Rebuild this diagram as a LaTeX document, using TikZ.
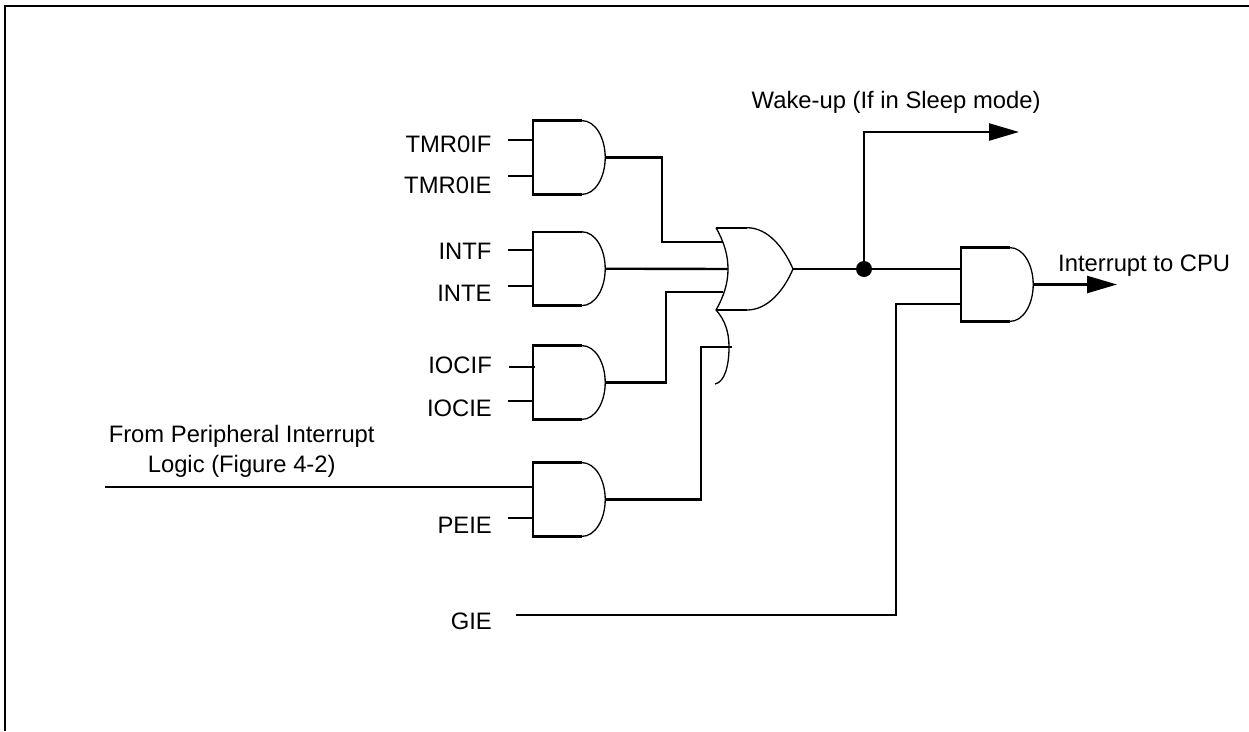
\documentclass[tikz,border=0pt]{standalone}
\usepackage{fontspec}
\setmainfont{Liberation Sans}
\usetikzlibrary{arrows.meta}
\tikzset{
  wire/.style={line width=2.4pt,line join=miter},
  thin curve/.style={line width=1.3pt},
  frameline/.style={line width=2.4pt},
  lbl/.style={inner sep=0pt,font=\fontsize{23.8pt}{29.3pt}\selectfont},
  andbody/.style={draw=none,rectangle,inner sep=0pt,minimum width=72pt,minimum height=73.4pt},
  out arrow/.style={-{Triangle[length=30pt,width=17pt]}},
  joint/.style={circle,fill=black,inner sep=0pt,minimum size=16pt},
}
% \andgate{name}: outline of an AND gate on the invisible body node
\newcommand{\andgate}[1]{%
  \draw[thin curve] ([xshift=-23.3pt]#1.north east) .. controls ([xshift=-10pt]#1.north east) and ([yshift=20pt]#1.east) .. (#1.east)
     .. controls ([yshift=-20pt]#1.east) and ([xshift=-10pt]#1.south east) .. ([xshift=-23.3pt]#1.south east);
  \draw[wire] ([xshift=-23.3pt]#1.north east) -- (#1.north west) -- (#1.south west) -- ([xshift=-23.3pt]#1.south east);
}
\begin{document}
\begin{tikzpicture}[x=1pt,y=-1pt]
\useasboundingbox (0,0) rectangle (1249,731);
\fill[white] (0,0) rectangle (1249,731);
% frame (left and top edges only)
\coordinate (fbl) at (5.2,731);
\coordinate (ftl) at (5.2,6);
\coordinate (ftr) at (1249,6);
\draw[frameline] (fbl) -- (ftl) -- (ftr);

% AND gates
\node[andbody] (g1) at (569,157.5) {};
\node[andbody] (g2) at (569,268.7) {};
\node[andbody] (g3) at (569,382.5) {};
\node[andbody] (g4) at (569,499.5) {};
\node[andbody] (g5) at (997,284.5) {};
\andgate{g1}\andgate{g2}\andgate{g3}\andgate{g4}\andgate{g5}

% OR gate
\coordinate (ortl) at (716,227.7);
\coordinate (orbl) at (716,310);
\coordinate (ortp) at (747,227.7);
\coordinate (orbp) at (747,310);
\coordinate (ortip) at (793,269);
\coordinate (orin) at (728,269);
\coordinate (orext) at (715,384);
\draw[wire] (ortl) -- (ortp);
\draw[wire] (orbl) -- (orbp);
\draw[thin curve] (ortp) .. controls (768,227.7) and (784,248) .. (ortip)
   .. controls (784,290) and (768,310) .. (orbp);
\draw[thin curve] (ortl) .. controls (724,242) and (728,255) .. (orin)
   .. controls (728,283) and (724,296) .. (orbl)
   .. controls (725,320) and (729,332) .. (729,347)
   .. controls (729,365) and (725,382) .. (orext);

% labels
\node[lbl,anchor=base east] (tmrf) at (491.7,152) {TMR0IF};
\node[lbl,anchor=base east] (tmre) at (491.7,193.5) {TMR0IE};
\node[lbl,anchor=base east] (intf) at (491.7,259.5) {INTF};
\node[lbl,anchor=base east] (inte) at (491.7,301.7) {INTE};
\node[lbl,anchor=base east] (iocf) at (492,373.5) {IOCIF};
\node[lbl,anchor=base east] (ioce) at (492,416) {IOCIE};
\node[lbl,anchor=base east] (peie) at (492,533) {PEIE};
\node[lbl,anchor=base east] (gie) at (492,629) {GIE};
\node[lbl,anchor=base west] (wake) at (751.5,108) {Wake-up (If in Sleep mode)};
\node[lbl,anchor=base west] (cpu) at (1058,271) {Interrupt to CPU};
\node[lbl,anchor=base] (from1) at (241.7,442.7) {From Peripheral Interrupt};
\node[lbl,anchor=base] (from2) at (241.7,472) {Logic (Figure 4-2)};

% input stubs: free ends
\coordinate (a1) at (508,140);
\coordinate (b1) at (508,176);
\coordinate (a2) at (508,250);
\coordinate (b2) at (508,285.7);
\coordinate (a3) at (509,367);
\coordinate (b3) at (508,401);
\coordinate (a4) at (105,487);
\coordinate (b4) at (508,517.7);
\draw[wire] (a1) -- (a1 -| g1.west);
\draw[wire] (b1) -- (b1 -| g1.west);
\draw[wire] (a2) -- (a2 -| g2.west);
\draw[wire] (b2) -- (b2 -| g2.west);
\draw[wire] (a3) -- ([xshift=2.5pt]a3 -| g3.west);
\draw[wire] (b3) -- (b3 -| g3.west);
\draw[wire] (a4) -- (a4 -| g4.west);
\draw[wire] (b4) -- (b4 -| g4.west);

% outputs to OR gate
\coordinate (o1) at (722.7,242);
\coordinate (o3) at (723,291.7);
\coordinate (o4) at (731.7,347);
\draw[wire] (g1.east) -| (662,242) -- (o1);
\draw[wire] (g2.east) -- (orin);
\draw[wire] (g3.east) -| (666,291.7) -- (o3);
\draw[wire] (g4.east) -| (700.7,347) -- (o4);

% OR output and branches
\node[joint] (dot) at (864,269) {};
\coordinate (wakeend) at (1019,132);
\coordinate (cpuend) at (1117,284.5);
\coordinate (g5a) at (g5.west |- dot);
\coordinate (g5b) at (961,303.7);
\coordinate (giestart) at (516,614.7);
\draw[wire] (ortip) -- (dot);
\draw[wire] (dot) -- (g5a);
\draw[wire,out arrow] (dot) |- (wakeend);
\draw[wire,out arrow] (g5.east) -- (cpuend);
\draw[wire] (giestart) -| (896,303.7) -- (g5b);
\end{tikzpicture}
\end{document}
